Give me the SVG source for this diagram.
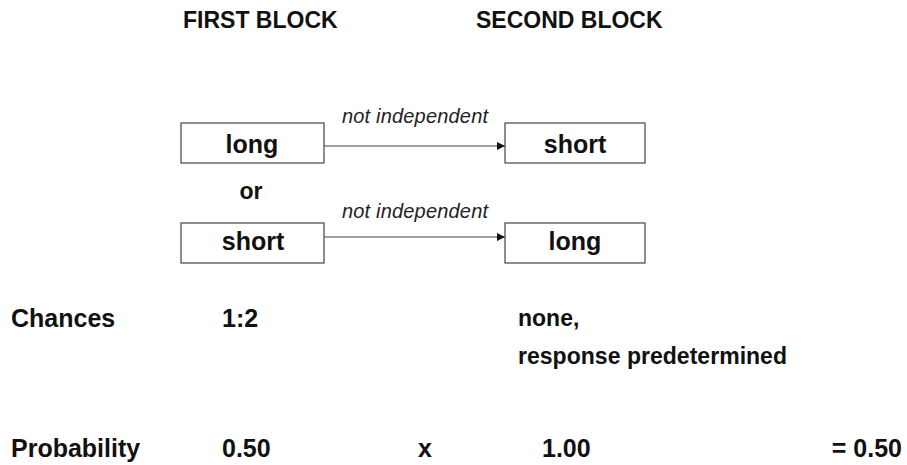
<svg xmlns="http://www.w3.org/2000/svg" width="907" height="465" viewBox="0 0 907 465">
  <style>
    .t { font-family: "Liberation Sans", Arial, sans-serif; font-weight: bold; fill: #111; }
    .h { font-size: 23px; }
    .b { font-size: 25px; }
    .s { font-size: 23px; }
    .lab { font-family: "Liberation Sans", Arial, sans-serif; font-style: italic; font-size: 20px; fill: #222; }
    .box { fill: #fff; stroke: #444; stroke-width: 1.2; }
    .conn { stroke: #444; stroke-width: 1.2; fill: none; marker-end: url(#arr); }
  </style>
  <defs>
    <marker id="arr" viewBox="0 0 10 10" refX="10" refY="5" markerWidth="8" markerHeight="8" markerUnits="userSpaceOnUse" orient="auto">
      <path d="M0,0 L10,5 L0,10 Z" fill="#111"/>
    </marker>
  </defs>
  <rect width="907" height="465" fill="#fff"/>

  <g id="headers">
    <text class="t h" x="183" y="28">FIRST BLOCK</text>
    <text class="t h" x="476" y="28">SECOND BLOCK</text>
  </g>

  <g id="connectors">
    <line class="conn" x1="322" y1="146" x2="505" y2="146"/>
    <line class="conn" x1="322" y1="237" x2="505" y2="237"/>
    <text class="lab" x="342" y="123" textLength="146" lengthAdjust="spacing">not independent</text>
    <text class="lab" x="342" y="218" textLength="146" lengthAdjust="spacing">not independent</text>
  </g>

  <g id="node-first-long">
    <rect class="box" x="181" y="123" width="143" height="40"/>
    <text class="t b" x="252" y="153" text-anchor="middle">long</text>
  </g>
  <g id="node-second-short">
    <rect class="box" x="505" y="123" width="140" height="40"/>
    <text class="t b" x="575" y="153" text-anchor="middle">short</text>
  </g>
  <g id="or-label">
    <text class="t s" x="251" y="199" text-anchor="middle">or</text>
  </g>
  <g id="node-first-short">
    <rect class="box" x="181" y="223" width="143" height="40"/>
    <text class="t b" x="253" y="250" text-anchor="middle">short</text>
  </g>
  <g id="node-second-long">
    <rect class="box" x="505" y="223" width="140" height="40"/>
    <text class="t b" x="575" y="250" text-anchor="middle">long</text>
  </g>

  <g id="chances-row">
    <text class="t b" x="11" y="327">Chances</text>
    <text class="t b" x="222" y="327">1:2</text>
    <text class="t s" x="518" y="326">none,</text>
    <text class="t s" x="518" y="364" textLength="269" lengthAdjust="spacing">response predetermined</text>
  </g>

  <g id="probability-row">
    <text class="t b" x="11" y="457">Probability</text>
    <text class="t b" x="222" y="457">0.50</text>
    <text class="t b" x="418" y="457">x</text>
    <text class="t b" x="542" y="457">1.00</text>
    <text class="t b" x="902" y="457" text-anchor="end">= 0.50</text>
  </g>
</svg>
